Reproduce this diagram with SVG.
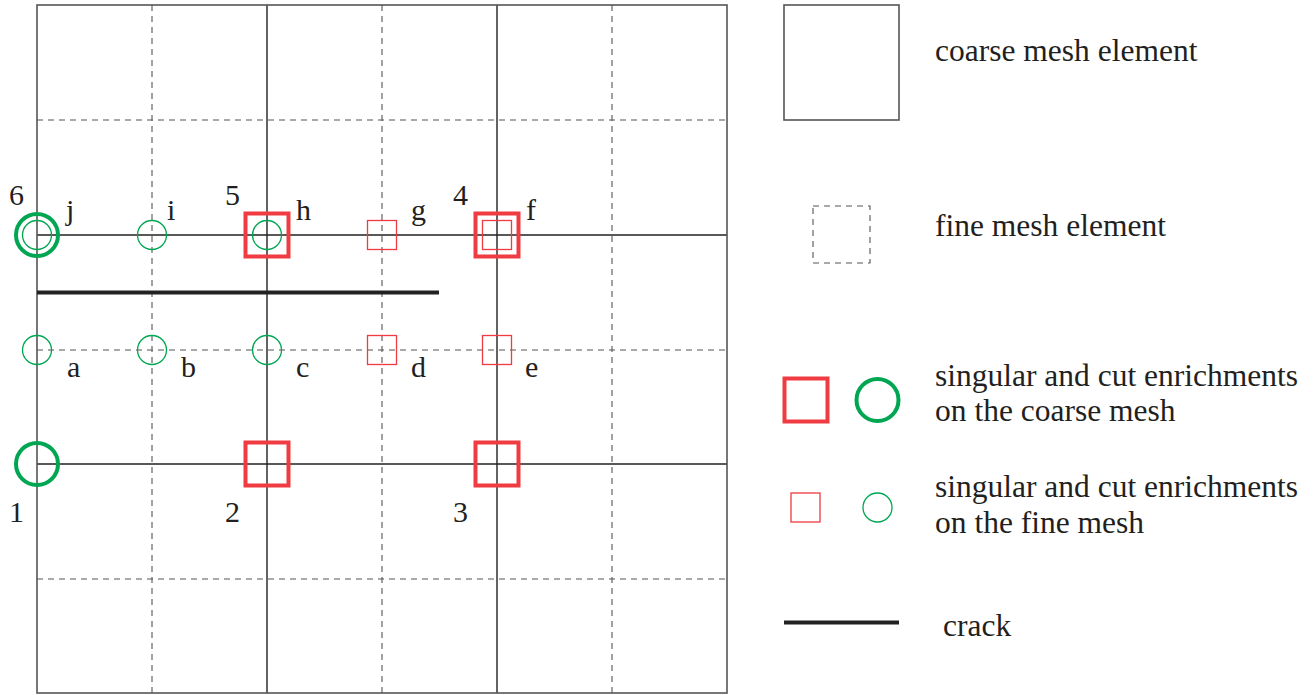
<svg xmlns="http://www.w3.org/2000/svg" width="1313" height="695" viewBox="0 0 1313 695">
<style>
text{font-family:Liberation Serif,Tinos,DejaVu Serif,Times New Roman,serif;fill:#231f20}
.lbl{font-size:30px}
.leg{font-size:31.5px}
.coarse{stroke:#222;stroke-width:1.4;fill:none}
.border{stroke:#555;stroke-width:1.6;fill:none}
.fine{stroke:#555;stroke-width:1.1;stroke-dasharray:6 5;fill:none}
.rs{fill:none;stroke:#ef3b41;stroke-width:4}
.rsf{fill:none;stroke:#ef3b41;stroke-width:1.3}
.gc{fill:none;stroke:#00a651;stroke-width:4}
.gcf{fill:none;stroke:#00a651;stroke-width:1.3}
.crack{stroke:#222;stroke-width:4}
</style>
<rect width="1313" height="695" fill="#fff"/>
<g id="mesh">
<path class="fine" d="M152 5V693M382 5V693M612 5V693M37 120H727M37 350H727M37 579H727"/>
<path class="coarse" d="M267 5V693M497 5V693M37 235H727M37 464H727"/>
<rect class="border" x="37" y="5" width="690" height="688"/>
</g>
<g id="crack"><line class="crack" x1="37" y1="292.5" x2="439" y2="292.5"/></g>
<g id="node-6"><circle class="gc" cx="37" cy="235" r="21"/><text class="lbl" x="9" y="205">6</text></g>
<g id="node-j"><circle class="gcf" cx="37" cy="235" r="14.5"/><text class="lbl" x="66" y="220">j</text></g>
<g id="node-i"><circle class="gcf" cx="152" cy="235" r="14.5"/><text class="lbl" x="167" y="220">i</text></g>
<g id="node-5"><rect class="rs" x="245.5" y="213.5" width="43" height="43"/><text class="lbl" x="225" y="205">5</text></g>
<g id="node-h"><circle class="gcf" cx="267" cy="235" r="14.5"/><text class="lbl" x="296" y="220">h</text></g>
<g id="node-g"><rect class="rsf" x="367.5" y="220.5" width="29" height="29"/><text class="lbl" x="411" y="220">g</text></g>
<g id="node-4"><rect class="rs" x="475.5" y="213.5" width="43" height="43"/><text class="lbl" x="453" y="205">4</text></g>
<g id="node-f"><rect class="rsf" x="482.5" y="220.5" width="29" height="29"/><text class="lbl" x="526" y="220">f</text></g>
<g id="node-a"><circle class="gcf" cx="37" cy="350" r="14.5"/><text class="lbl" x="67" y="377">a</text></g>
<g id="node-b"><circle class="gcf" cx="152" cy="350" r="14.5"/><text class="lbl" x="181" y="377">b</text></g>
<g id="node-c"><circle class="gcf" cx="267" cy="350" r="14.5"/><text class="lbl" x="296" y="377">c</text></g>
<g id="node-d"><rect class="rsf" x="367.5" y="335.5" width="29" height="29"/><text class="lbl" x="411" y="377">d</text></g>
<g id="node-e"><rect class="rsf" x="482.5" y="335.5" width="29" height="29"/><text class="lbl" x="525" y="377">e</text></g>
<g id="node-1"><circle class="gc" cx="37" cy="464" r="21"/><text class="lbl" x="9" y="522">1</text></g>
<g id="node-2"><rect class="rs" x="245.5" y="442.5" width="43" height="43"/><text class="lbl" x="225" y="522">2</text></g>
<g id="node-3"><rect class="rs" x="475.5" y="442.5" width="43" height="43"/><text class="lbl" x="453" y="522">3</text></g>
<g id="legend">
<rect class="border" x="784" y="5" width="115" height="115"/>
<text class="leg" x="935" y="61">coarse mesh element</text>
<rect class="fine" x="813" y="206" width="57" height="57"/>
<text class="leg" x="935" y="236">fine mesh element</text>
<rect class="rs" x="784.5" y="378.5" width="43" height="43"/>
<circle class="gc" cx="877.5" cy="400" r="21"/>
<text class="leg" x="935" y="386">singular and cut enrichments</text>
<text class="leg" x="935" y="421">on the coarse mesh</text>
<rect class="rsf" x="791" y="493" width="29" height="29"/>
<circle class="gcf" cx="877.5" cy="507.5" r="14.5"/>
<text class="leg" x="935" y="497">singular and cut enrichments</text>
<text class="leg" x="935" y="533">on the fine mesh</text>
<line class="crack" x1="784" y1="622.5" x2="899" y2="622.5"/>
<text class="leg" x="943" y="636">crack</text>
</g>
</svg>
